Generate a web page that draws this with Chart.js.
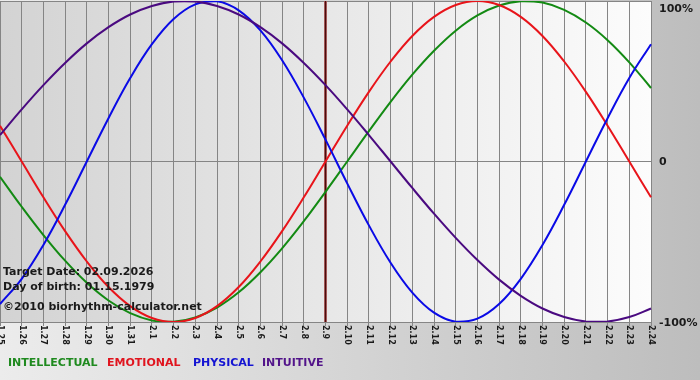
<!DOCTYPE html>
<html>
<head>
<meta charset="utf-8">
<title>Biorhythm</title>
<script src="https://cdn.jsdelivr.net/npm/chart.js@4.4.1/dist/chart.umd.min.js"></script>
<style>
    body { margin: 0; background: #d0d0d0; }
    #wrap { position: relative; width: 700px; height: 380px; overflow: hidden; }
    .info { position: absolute; left: 3px; font: bold 11px "DejaVu Sans", sans-serif; line-height: 13px; color: #1a1a1a; white-space: nowrap; }
    .legend { position: absolute; top: 356px; font: bold 11px "DejaVu Sans", sans-serif; line-height: 13px; white-space: nowrap; }
</style>
</head>
<body>
<div id="wrap">
    <canvas id="bio" width="700" height="380"></canvas>
    <div class="info" style="top:265px">Target Date: 02.09.2026</div>
    <div class="info" style="top:280px">Day of birth: 01.15.1979</div>
    <div class="info" style="top:300px">&copy;2010 biorhythm-calculator.net</div>
    <div class="legend" style="left:8px;color:#1f8a1f">INTELLECTUAL</div>
    <div class="legend" style="left:107px;color:#e0141e">EMOTIONAL</div>
    <div class="legend" style="left:193px;color:#1414d2">PHYSICAL</div>
    <div class="legend" style="left:262px;color:#52148a">INTUITIVE</div>
</div>
<script>
    // days shown on the x axis (month.day)
    var days = ['1.25', '1.26', '1.27', '1.28', '1.29', '1.30', '1.31',
        '2.1', '2.2', '2.3', '2.4', '2.5', '2.6', '2.7', '2.8', '2.9', '2.10',
        '2.11', '2.12', '2.13', '2.14', '2.15', '2.16', '2.17', '2.18', '2.19',
        '2.20', '2.21', '2.22', '2.23', '2.24'];
    var targetDay = '2.9';

    // cycle values in percent
    var intellectual = [-9.5, -28.2, -45.8, -61.8, -75.6, -86.6, -94.5, -99.0, -99.9, -97.2, -91.0,
        -81.5, -69.0, -54.1, -37.2, -18.9, 0, 18.9, 37.2, 54.1, 69.0,
        81.5, 91.0, 97.2, 99.9, 99.0, 94.5, 86.6, 75.6, 61.8, 45.8];
    var emotional = [22.3, 0, -22.3, -43.4, -62.3, -78.2, -90.1, -97.5, -100, -97.5, -90.1,
        -78.2, -62.3, -43.4, -22.3, 0, 22.3, 43.4, 62.3, 78.2, 90.1,
        97.5, 100, 97.5, 90.1, 78.2, 62.3, 43.4, 22.3, 0, -22.3];
    var physical = [-88.8, -73.1, -52.0, -27.0, 0, 27.0, 52.0, 73.1, 88.8, 97.9, 99.8,
        94.2, 81.7, 63.1, 39.8, 13.6, -13.6, -39.8, -63.1, -81.7, -94.2,
        -99.8, -97.9, -88.8, -73.1, -52.0, -27.0, 0, 27.0, 52.0, 73.1];
    var intuitive = [16.5, 32.5, 47.6, 61.4, 73.6, 83.7, 91.6, 96.9, 99.7, 99.7, 96.9,
        91.6, 83.7, 73.6, 61.4, 47.6, 32.5, 16.5, 0, -16.5, -32.5,
        -47.6, -61.4, -73.6, -83.7, -91.6, -96.9, -99.7, -99.7, -96.9, -91.6];

    var yTicks = [100, 0, -100];
    var yTickLabels = ['100%', '0', '-100%'];

    /*
    *   gray gradient background, lighter toward the right inside the plot
    */
    var backgroundPlugin = {
        id: 'background',
        beforeDraw: function(chart) {
            var ctx = chart.ctx, a = chart.chartArea;
            ctx.save();
            var g = ctx.createLinearGradient(0, 0, chart.width, 0);
            g.addColorStop(0, '#ececec');
            g.addColorStop(1, '#bdbdbd');
            ctx.fillStyle = g;
            ctx.fillRect(0, 0, chart.width, chart.height);
            var g2 = ctx.createLinearGradient(a.left, 0, a.right, 0);
            g2.addColorStop(0, '#d3d3d3');
            g2.addColorStop(1, '#fcfcfc');
            ctx.fillStyle = g2;
            ctx.fillRect(a.left, a.top, a.right - a.left, a.bottom - a.top);
            ctx.restore();
        }
    };

    /*
    *   vertical marker on the target date
    */
    var targetPlugin = {
        id: 'target',
        beforeDatasetsDraw: function(chart) {
            var ctx = chart.ctx, a = chart.chartArea;
            var x = chart.scales.x.getPixelForValue(days.indexOf(targetDay));
            ctx.save();
            ctx.strokeStyle = '#c07070';
            ctx.lineWidth = 3;
            ctx.beginPath();
            ctx.moveTo(x, a.top);
            ctx.lineTo(x, a.bottom);
            ctx.stroke();
            ctx.strokeStyle = '#4a0c0c';
            ctx.lineWidth = 1.5;
            ctx.stroke();
            ctx.restore();
        }
    };

    /*
    *   tick labels: x labels turned clockwise, y labels on the right
    */
    var labelPlugin = {
        id: 'labels',
        afterDraw: function(chart) {
            var ctx = chart.ctx, a = chart.chartArea;
            var xs = chart.scales.x, ys = chart.scales.y;
            ctx.save();
            ctx.fillStyle = '#1a1a1a';
            ctx.font = 'bold 8px "DejaVu Sans"';
            ctx.textAlign = 'left';
            ctx.textBaseline = 'middle';
            for (var i = 0; i < days.length; i++) {
                ctx.save();
                ctx.translate(xs.getPixelForTick(i), a.bottom + 3);
                ctx.rotate(Math.PI / 2);
                ctx.fillText(days[i], 0, 0);
                ctx.restore();
            }
            ctx.font = 'bold 11px "DejaVu Sans"';
            for (var j = 0; j < yTicks.length; j++) {
                var y = ys.getPixelForValue(yTicks[j]);
                y = Math.max(y, a.top + 7);
                ctx.fillText(yTickLabels[j], a.right + 8, y + 1);
            }
            ctx.restore();
        }
    };

    var ctx = document.getElementById('bio').getContext('2d');
    var bioChart = new Chart(ctx, {
        type: 'line',
        data: {
            labels: days,
            datasets: [{
                label: 'INTUITIVE',
                data: intuitive,
                borderColor: '#4a0a80',
                order: 0
            }, {
                label: 'PHYSICAL',
                data: physical,
                borderColor: '#0a0ae6',
                order: 1
            }, {
                label: 'EMOTIONAL',
                data: emotional,
                borderColor: '#e8141a',
                order: 2
            }, {
                label: 'INTELLECTUAL',
                data: intellectual,
                borderColor: '#138a13',
                order: 3
            }]
        },
        options: {
            responsive: false,
            animation: false,
            devicePixelRatio: 1,
            layout: { padding: { top: 1, left: 0, right: 0, bottom: 0 } },
            elements: {
                line: { borderWidth: 2, tension: 0.4, fill: false },
                point: { radius: 0 }
            },
            plugins: {
                legend: { display: false },
                tooltip: { enabled: false }
            },
            scales: {
                x: {
                    offset: false,
                    grid: { color: '#858585', lineWidth: 1, drawTicks: true, tickLength: 4, tickColor: '#858585' },
                    border: { color: '#858585' },
                    ticks: { display: false, autoSkip: false },
                    afterFit: function(scale) { scale.height = 58; }
                },
                y: {
                    position: 'right',
                    min: -100,
                    max: 100,
                    afterBuildTicks: function(scale) {
                        scale.ticks = yTicks.map(function(v) { return { value: v }; });
                    },
                    grid: { color: '#858585', drawTicks: false },
                    border: { display: false },
                    ticks: { display: false },
                    afterFit: function(scale) { scale.width = 49; }
                }
            }
        },
        plugins: [backgroundPlugin, targetPlugin, labelPlugin]
    });
</script>
</body>
</html>
